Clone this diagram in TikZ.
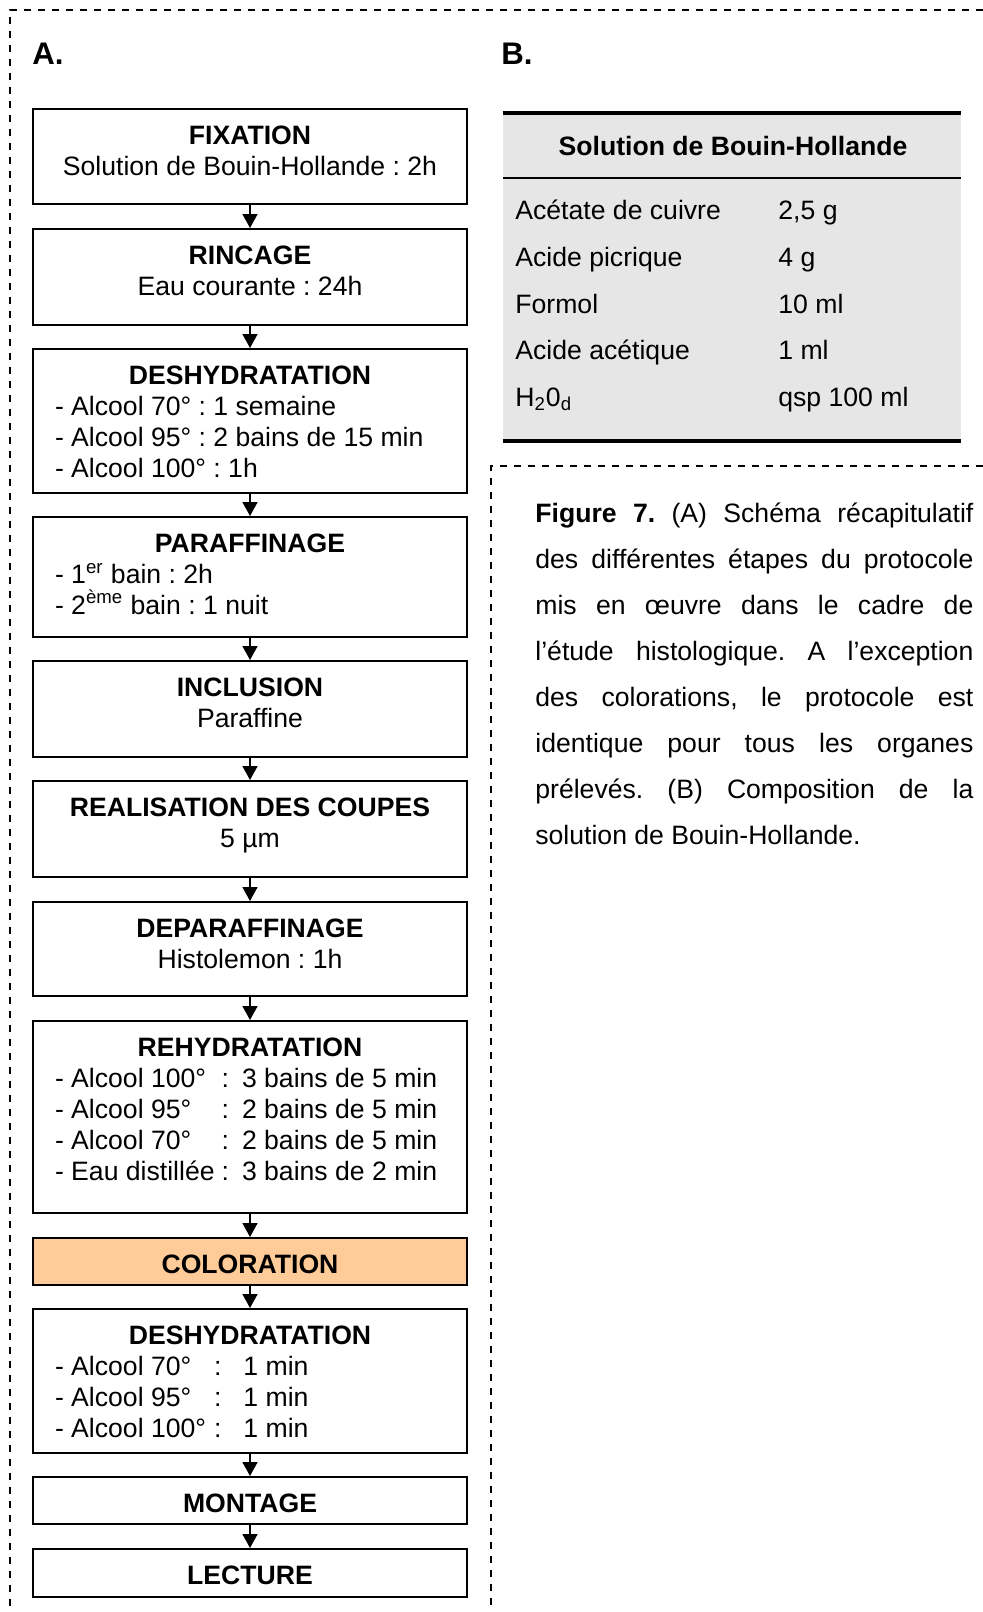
\documentclass[tikz,border=0pt]{standalone}
\usepackage{fontspec}
\setmainfont{Liberation Sans}
\usetikzlibrary{arrows.meta}
\frenchspacing

\definecolor{tablegray}{RGB}{230,230,230}
\definecolor{peach}{RGB}{255,204,153}

\tikzset{
  stagebox/.style={draw, line width=1pt, anchor=north, text width=195pt,
    inner xsep=11pt, inner ysep=0pt, text height=17.9pt,
    font=\fontsize{13.3}{15.4}\selectfont,
    execute at begin node={\spaceskip=\fontdimen2\font\xspaceskip=\fontdimen2\font}},
  cell/.style={inner sep=0pt, font=\fontsize{13.3}{15.4}\selectfont},
  panel/.style={inner sep=0pt, anchor=base west, font=\fontsize{15.6}{18}\selectfont\bfseries},
  flow/.style={-{Triangle[width=7.5pt,length=7pt]}, line width=0.8pt},
  frame/.style={dash pattern=on 3.5pt off 3.5pt, line width=0.8pt}
}

\begin{document}
\begin{tikzpicture}[x=0.5pt,y=-0.5pt]
\useasboundingbox (0,0) rectangle (983,1612);

% dashed frames
\draw[frame] (983,10) -- (10,10) -- (10,1612);
\draw[frame] (983,466) -- (491,466) -- (491,1612);

\node[panel] (labA) at (32,64) {A.};
\node[panel] (labB) at (501,64) {B.};

% A. protocol
\node[stagebox, align=center, text depth=29.75pt] (fix) at (250,108) {\textbf{FIXATION}\\Solution de Bouin-Hollande : 2h};
\node[stagebox, align=center, text depth=30.25pt] (rin) at (250,228) {\textbf{RINCAGE}\\Eau courante : 24h};
\node[stagebox, align=left, text depth=54.25pt] (desh) at (250,348) {{\centering\bfseries DESHYDRATATION\par}- Alcool 70° : 1 semaine\\- Alcool 95° : 2 bains de 15 min\\- Alcool 100° : 1h};
\node[stagebox, align=left, text depth=42.25pt] (para) at (250,516) {{\centering\bfseries PARAFFINAGE\par}- 1\textsuperscript{er} bain : 2h\\- 2\textsuperscript{ème} bain : 1 nuit};
\node[stagebox, align=center, text depth=30.25pt] (incl) at (250,660) {\textbf{INCLUSION}\\Paraffine};
\node[stagebox, align=center, text depth=30.25pt] (coupe) at (250,780) {\textbf{REALISATION DES COUPES}\\5 µm};
\node[stagebox, align=center, text depth=29.25pt] (depa) at (250,901) {\textbf{DEPARAFFINAGE}\\Histolemon : 1h};
\node[stagebox, align=left, text depth=78.25pt] (rehy) at (250,1020) {{\centering\bfseries REHYDRATATION\par}\begin{tabular}[t]{@{}l@{\hspace{3.5pt}:\hspace{6.5pt}}l@{}}
- Alcool 100° & 3 bains de 5 min\\
- Alcool 95° & 2 bains de 5 min\\
- Alcool 70° & 2 bains de 5 min\\
- Eau distillée & 3 bains de 2 min
\end{tabular}};
\node[stagebox, align=center, fill=peach, text depth=5.5pt] (colo) at (250,1237) {\textbf{COLORATION}};
\node[stagebox, align=left, text depth=54.25pt] (desh2) at (250,1308) {{\centering\bfseries DESHYDRATATION\par}\begin{tabular}[t]{@{}l@{\hspace{4pt}:\hspace{11pt}}l@{}}
- Alcool 70° & 1 min\\
- Alcool 95° & 1 min\\
- Alcool 100° & 1 min
\end{tabular}};
\node[stagebox, align=center, text depth=5.5pt] (mont) at (250,1476) {\textbf{MONTAGE}};
\node[stagebox, align=center, text depth=6pt] (lect) at (250,1548) {\textbf{LECTURE}};

\draw[flow] (fix.south) -- (rin.north);
\draw[flow] (rin.south) -- (desh.north);
\draw[flow] (desh.south) -- (para.north);
\draw[flow] (para.south) -- (incl.north);
\draw[flow] (incl.south) -- (coupe.north);
\draw[flow] (coupe.south) -- (depa.north);
\draw[flow] (depa.south) -- (rehy.north);
\draw[flow] (rehy.south) -- (colo.north);
\draw[flow] (colo.south) -- (desh2.north);
\draw[flow] (desh2.south) -- (mont.north);
\draw[flow] (mont.south) -- (lect.north);

% B. Bouin-Hollande table
\fill[tablegray] (503,113) rectangle (961,441);
\draw[line width=2pt] (503,113) -- (961,113);
\draw[line width=1pt] (503,178) -- (961,178);
\draw[line width=2pt] (503,441) -- (961,441);
\node[cell, anchor=base, font=\fontsize{13.3}{15.4}\selectfont\bfseries] (head) at (733,155) {Solution de Bouin-Hollande};
\node[cell, anchor=base west] (ing1) at (515,219) {Acétate de cuivre};
\node[cell, anchor=base west] (qty1) at (778,219) {2,5 g};
\node[cell, anchor=base west] (ing2) at (515,266) {Acide picrique};
\node[cell, anchor=base west] (qty2) at (778,266) {4 g};
\node[cell, anchor=base west] (ing3) at (515,313) {Formol};
\node[cell, anchor=base west] (qty3) at (778,313) {10 ml};
\node[cell, anchor=base west] (ing4) at (515,359) {Acide acétique};
\node[cell, anchor=base west] (qty4) at (778,359) {1 ml};
\node[cell, anchor=base west] (ing5) at (515,406) {H\textsubscript{2}0\textsubscript{d}};
\node[cell, anchor=base west] (qty5) at (778,406) {qsp 100 ml};

% caption
\node[inner sep=0pt, anchor=base west, text width=219pt,
  font=\fontsize{13.3}{23}\selectfont,
  execute at begin node={\spaceskip=\fontdimen2\font plus 20pt}] (caption) at (535,522)
  {\makebox[219pt][s]{\textbf{Figure 7.} (A) Schéma récapitulatif}\\
   \makebox[219pt][s]{des différentes étapes du protocole}\\
   \makebox[219pt][s]{mis en œuvre dans le cadre de}\\
   \makebox[219pt][s]{l’étude histologique. A l’exception}\\
   \makebox[219pt][s]{des colorations, le protocole est}\\
   \makebox[219pt][s]{identique pour tous les organes}\\
   \makebox[219pt][s]{prélevés. (B) Composition de la}\\
   solution de Bouin-Hollande.};
\end{tikzpicture}
\end{document}
